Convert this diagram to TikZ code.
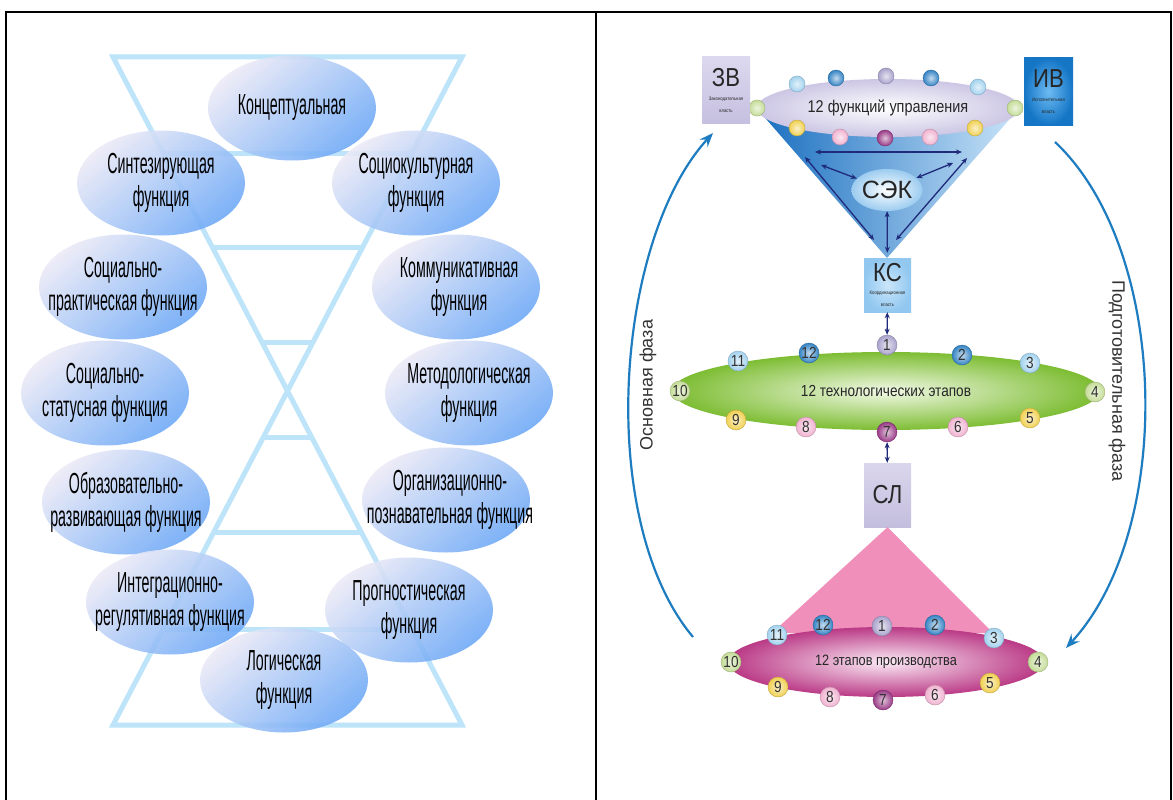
\documentclass[tikz,border=0pt]{standalone}
\usepackage{fontspec}
\setmainfont{Liberation Sans}
\newfontfamily\narrowfont[FakeStretch=0.49]{Liberation Sans}
\newfontfamily\rpfont[FakeStretch=0.85]{Liberation Sans}
\usetikzlibrary{shapes.geometric,arrows.meta}

\definecolor{hglass}{HTML}{BEE4FA}
\definecolor{fnlight}{HTML}{ECEAF6}
\definecolor{fnblue}{HTML}{6CA8F6}
\definecolor{topell}{HTML}{CCC6E4}
\definecolor{funA}{HTML}{1A6FC0}
\definecolor{funB}{HTML}{3A8EDA}
\definecolor{funC}{HTML}{C8E3F8}
\definecolor{sekout}{HTML}{9CCCF0}
\definecolor{ksin}{HTML}{CBE6FA}
\definecolor{ksout}{HTML}{92C8F0}
\definecolor{zvtop}{HTML}{DCD8EE}
\definecolor{zvbot}{HTML}{C6C0E0}
\definecolor{ivin}{HTML}{6CBAF2}
\definecolor{ivout}{HTML}{1576C6}
\definecolor{slin}{HTML}{DAD6EC}
\definecolor{slout}{HTML}{C4BEDE}
\definecolor{techin}{HTML}{F2F9E6}
\definecolor{techout}{HTML}{7DBD33}
\definecolor{prodin}{HTML}{FBEAF5}
\definecolor{prodout}{HTML}{BA3A86}
\definecolor{pinktri}{HTML}{F090BA}
\definecolor{phaseblue}{HTML}{1E7DC0}
\definecolor{navy}{HTML}{1F2A7A}
\definecolor{ogreen}{HTML}{C4DC96}
\definecolor{olb}{HTML}{A2D2EE}
\definecolor{oblue}{HTML}{3584C4}
\definecolor{olav}{HTML}{A9A2CC}
\definecolor{oyel}{HTML}{F0D050}
\definecolor{opink}{HTML}{F0B2D0}
\definecolor{opur}{HTML}{993A86}

\newcommand{\boxtitle}[1]{{\rpfont\fontsize{26}{26}\selectfont #1}}
\newcommand{\boxnote}[1]{{\rpfont\fontsize{5}{6}\selectfont #1}}

\begin{document}
\begin{tikzpicture}[x=1pt,y=-1pt,
  fn/.style={ellipse, minimum width=168pt, minimum height=105pt, inner sep=0pt,
    top color=fnlight, bottom color=fnblue, shading angle=40, fill opacity=0.88},
  fnlabel/.style={align=center, inner sep=0pt, text=black,
    font=\narrowfont\fontsize{29}{33}\selectfont},
  hg/.style={draw=hglass, line width=5pt},
  orb/.style={circle, inner sep=0pt, minimum size=20pt,
    inner color=#1!30!white, outer color=#1, draw=#1!80!black, line width=0.4pt,
    text=black!80, font=\rpfont\fontsize{16}{16}\selectfont},
  dot/.style={orb=#1, minimum size=16pt},
  box/.style={rectangle, inner sep=0pt, align=center, text=black!85},
  link/.style={{Stealth[length=6pt,width=5pt]}-{Stealth[length=6pt,width=5pt]},
    line width=1.3pt, draw=navy},
  phase/.style={-{Stealth[length=14pt,width=11pt,inset=5pt]}, line width=2.2pt,
    draw=phaseblue},
  rim/.style={ellipse, inner sep=0pt, text=black!85}
]
\useasboundingbox (0,0) rectangle (1173,800);
\fill[white] (0,0) rectangle (1173,800);

% table frame
\draw[line width=2pt] (6,800) -- (6,12) -- (1171,12) -- (1171,800);
\draw[line width=2pt] (596,12) -- (596,800);

% ---------- left panel: hourglass ----------
\draw[hg] (113,57) -- (462,57) -- (113,725) -- (462,725) -- cycle;
\draw[hg] (163.5,153) -- (411.5,153);
\draw[hg] (212.5,247) -- (362.5,247);
\draw[hg] (262,342) -- (313,342);
\draw[hg] (263.5,437) -- (311.5,437);
\draw[hg] (214,532) -- (361,532);
\draw[hg] (163.5,629) -- (411.5,629);

% function ellipses and their captions
\node[fn] (f1) at (292,108) {};
\node[fnlabel] (f1t) at (f1) {Концептуальная};
\node[fn] (f2) at (161,183) {};
\node[fnlabel] (f2t) at (f2) {Синтезирующая\\функция};
\node[fn] (f3) at (416,183) {};
\node[fnlabel] (f3t) at (f3) {Социокультурная\\функция};
\node[fn] (f4) at (123,287) {};
\node[fnlabel] (f4t) at (f4) {Социально-\\практическая функция};
\node[fn] (f5) at (456,287) {};
\node[fnlabel] (f5t) at (459,287) {Коммуникативная\\функция};
\node[fn] (f6) at (105,393) {};
\node[fnlabel] (f6t) at (f6) {Социально-\\статусная функция};
\node[fn] (f7) at (469,393) {};
\node[fnlabel] (f7t) at (f7) {Методологическая\\функция};
\node[fn] (f8) at (126,502) {};
\node[fnlabel] (f8t) at (f8) {Образовательно-\\развивающая функция};
\node[fn] (f9) at (446,500) {};
\node[fnlabel] (f9t) at (450,500) {Организационно-\\познавательная функция};
\node[fn] (f10) at (170,602) {};
\node[fnlabel] (f10t) at (f10) {Интеграционно-\\регулятивная функция};
\node[fn] (f11) at (409,610) {};
\node[fnlabel] (f11t) at (f11) {Прогностическая\\функция};
\node[fn] (f12) at (284,680) {};
\node[fnlabel] (f12t) at (f12) {Логическая\\функция};

% ---------- right panel ----------
% phase arcs
\coordinate (aL0) at (693,637);
\coordinate (aL1) at (713,133);
\draw[phase] (aL0) .. controls (595,520) and (615,240) .. (aL1);
\coordinate (aR0) at (1055,142);
\coordinate (aR1) at (1066,648);
\draw[phase] (aR0) .. controls (1170,250) and (1175,530) .. (aR1);
\node[rotate=90, font=\fontsize{18}{18}\selectfont, text=black!80] (phMain) at (648,385) {Основная фаза};
\node[rotate=-90, font=\fontsize{18}{18}\selectfont, text=black!80] (phPrep) at (1117,381) {Подготовительная фаза};

% funnel
\coordinate (fnL) at (760,112);
\coordinate (fnR) at (1016,112);
\coordinate (fnB) at (887,258);
\shade[left color=funA, middle color=funB, right color=funC] (fnL) -- (fnR) -- (fnB) -- cycle;

\node[rim, minimum width=263pt, minimum height=58pt, inner color=white, outer color=topell,
  font=\rpfont\fontsize{17}{17}\selectfont] (mgmt) at (888,108) {12 функций управления};
\node[dot=ogreen] (t1) at (757,108) {};
\node[dot=olb] (t2) at (797,84) {};
\node[dot=oblue] (t3) at (836,78) {};
\node[dot=olav] (t4) at (886,76) {};
\node[dot=oblue] (t5) at (931,78) {};
\node[dot=olb] (t6) at (978,87) {};
\node[dot=ogreen] (t7) at (1015,108) {};
\node[dot=oyel] (t8) at (975,128) {};
\node[dot=opink] (t9) at (930,137) {};
\node[dot=opur] (t10) at (885,138) {};
\node[dot=opink] (t11) at (840,137) {};
\node[dot=oyel] (t12) at (797,128) {};

% power boxes
\node[box, minimum width=48pt, minimum height=66pt, top color=zvtop, bottom color=zvbot] (zv) at (726,90)
  {\boxtitle{ЗВ}\\[2pt]\boxnote{Законодательная}\\\boxnote{власть}};
\node[box, minimum width=49pt, minimum height=67pt, inner color=ivin, outer color=ivout] (iv) at (1048.5,91.5)
  {\boxtitle{ИВ}\\[2pt]\boxnote{Исполнительная}\\\boxnote{власть}};

\node[rim, minimum width=64pt, minimum height=42pt, inner color=white, outer color=sekout,
  font=\fontsize{25}{25}\selectfont] (sek) at (887,190) {СЭК};
\node[box, minimum width=47pt, minimum height=54pt, inner color=ksin, outer color=ksout] (ks) at (887.5,285)
  {\boxtitle{КС}\\[1pt]\boxnote{Координационная}\\\boxnote{власть}};

% links inside the funnel
\coordinate (c1) at (815,152);
\coordinate (c2) at (962,152);
\coordinate (c3) at (805,157);
\coordinate (c4) at (874,240);
\coordinate (c5) at (967,158);
\coordinate (c6) at (896,240);
\coordinate (c7) at (821,165);
\coordinate (c8) at (953,163);
\draw[link] (c1) -- (c2);
\draw[link] (c3) -- (c4);
\draw[link] (c5) -- (c6);
\draw[link] (c7) -- (sek);
\draw[link] (c8) -- (sek);
\draw[link, shorten >=5pt] (sek) -- (ks);

% technological stages
\node[rim, minimum width=428pt, minimum height=78pt, inner color=techin, outer color=techout,
  font=\rpfont\fontsize{16}{16}\selectfont] (tech) at (886,391) {12 технологических этапов};
\node[orb=olav] (g1) at (887,345) {1};
\node[orb=oblue] (g2) at (962,355) {2};
\node[orb=olb] (g3) at (1030,363) {3};
\node[orb=ogreen] (g4) at (1095,392) {4};
\node[orb=oyel] (g5) at (1030,418) {5};
\node[orb=opink] (g6) at (958,427) {6};
\node[orb=opur] (g7) at (887,432) {7};
\node[orb=opink] (g8) at (806,427) {8};
\node[orb=oyel] (g9) at (736,420) {9};
\node[orb=ogreen] (g10) at (680,391) {10};
\node[orb=olb] (g11) at (738,361) {11};
\node[orb=oblue] (g12) at (809,353) {12};
\draw[link] (ks) -- (g1);

% production stages
\node[box, minimum width=47pt, minimum height=64pt, top color=slin, bottom color=slout] (sl) at (887.5,495)
  {\boxtitle{СЛ}};
\coordinate (pbL) at (772,633);
\coordinate (pbR) at (993,633);
\fill[pinktri] (sl.south) -- (pbR) -- (pbL) -- cycle;
\draw[link] (g7) -- (sl);

\node[rim, minimum width=316pt, minimum height=70pt, inner color=prodin, outer color=prodout,
  font=\rpfont\fontsize{15}{15}\selectfont] (prod) at (886,662) {12 этапов производства};
\node[orb=olav] (p1) at (882,626) {1};
\node[orb=oblue] (p2) at (935,625) {2};
\node[orb=olb] (p3) at (994,638) {3};
\node[orb=ogreen] (p4) at (1038,662) {4};
\node[orb=oyel] (p5) at (990,683) {5};
\node[orb=opink] (p6) at (935,695) {6};
\node[orb=opur] (p7) at (883,700) {7};
\node[orb=opink] (p8) at (830,697) {8};
\node[orb=oyel] (p9) at (778,687) {9};
\node[orb=ogreen] (p10) at (731,662) {10};
\node[orb=olb] (p11) at (777,635) {11};
\node[orb=oblue] (p12) at (823,625) {12};
\end{tikzpicture}
\end{document}
